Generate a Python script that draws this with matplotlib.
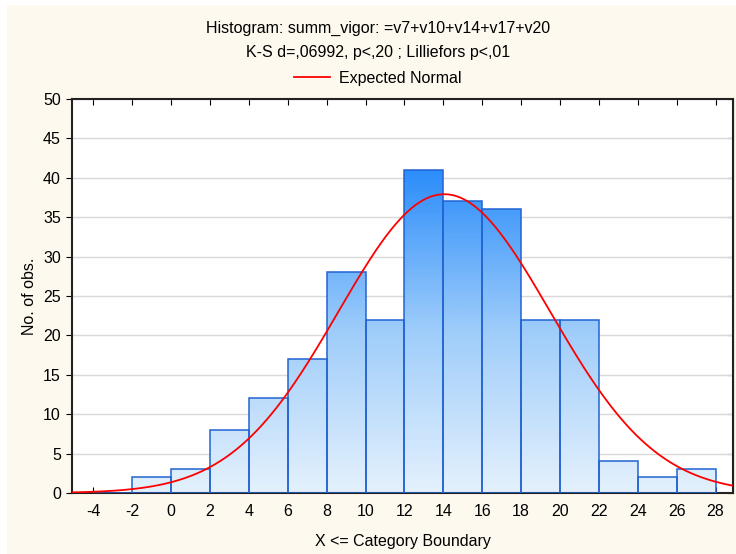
import numpy as np
import matplotlib
matplotlib.use('Agg')
import matplotlib.pyplot as plt
from matplotlib.colors import LinearSegmentedColormap
from matplotlib.patches import Rectangle

plt.rcParams['font.family'] = ['Liberation Sans', 'DejaVu Sans']
plt.rcParams['axes.unicode_minus'] = False

# bin edges and counts
bin_left = [-4, -2, 0, 2, 4, 6, 8, 10, 12, 14, 16, 18, 20, 22, 24, 26]
counts = [0, 2, 3, 8, 12, 17, 28, 22, 41, 37, 36, 22, 22, 4, 2, 3]
bin_width = 2
x_ticks = list(range(-4, 29, 2))
y_ticks = list(range(0, 51, 5))

# expected normal parameters (estimated from the curve)
norm_mean = 14.05
norm_sd = 5.45

title1 = 'Histogram: summ_vigor: =v7+v10+v14+v17+v20'
title2 = 'K-S d=,06992, p<,20 ; Lilliefors p<,01'

fig = plt.figure(figsize=(7.36, 5.54), dpi=100)
fig.patch.set_facecolor('white')
# cream panel behind the chart
fig.patches.append(Rectangle((7 / 736, 0), 1 - 7 / 736, 1 - 5 / 554,
                             transform=fig.transFigure, facecolor='#fdf9ee',
                             edgecolor='none', zorder=-10))

ax = fig.add_axes([72 / 736, 1 - 493 / 554, (733 - 72) / 736, (493 - 99) / 554])
ax.set_facecolor('white')

cmap = LinearSegmentedColormap.from_list('bar', ['#e4f1fd', '#9fcdfa', '#2c8dfa'])
top = max(counts)
for xl, c in zip(bin_left, counts):
    rect = Rectangle((xl, 0), bin_width, c, facecolor='none',
                     edgecolor='#2263d2', linewidth=1.1, zorder=3)
    ax.add_patch(rect)
    if c > 0:
        grad = np.linspace(0, c / top, 100).reshape(-1, 1)
        im = ax.imshow(grad, extent=(xl, xl + bin_width, 0, c), origin='lower',
                       cmap=cmap, vmin=0, vmax=1, aspect='auto', zorder=2)
        im.set_clip_path(rect)

xs = np.linspace(-5.1, 29, 400)
n_total = sum(counts)
ys = n_total * bin_width * np.exp(-0.5 * ((xs - norm_mean) / norm_sd) ** 2) / (norm_sd * np.sqrt(2 * np.pi))
line, = ax.plot(xs, ys, color='#ff0000', linewidth=1.3, zorder=4)

ax.set_xlim(-5.1, 28.9)
ax.set_ylim(0, 50)
ax.set_xticks(x_ticks)
ax.set_yticks(y_ticks)
ax.yaxis.grid(True, color='#d9d9d9', linewidth=1)
ax.set_axisbelow(True)
ax.tick_params(axis='x', direction='in', top=True, length=4, labelsize=11.5, pad=8)
ax.tick_params(axis='y', direction='out', length=4, labelsize=11.5, pad=4)
for s in ax.spines.values():
    s.set_linewidth(1.5)
    s.set_color('#222222')
# right side inward ticks
ax2 = ax.secondary_yaxis('right')
ax2.set_yticks(y_ticks)
ax2.tick_params(direction='in', length=4, labelright=False)

ax.set_xlabel('X <= Category Boundary', fontsize=11.5, labelpad=11)
ax.set_ylabel('No. of obs.', fontsize=11.5, labelpad=4)

cx = 378 / 736
fig.text(cx, 1 - 28 / 554, title1, ha='center', va='center', fontsize=11.5)
fig.text(cx, 1 - 53 / 554, title2, ha='center', va='center', fontsize=11.5)
fig.legend([line], ['Expected Normal'], loc='center', bbox_to_anchor=(cx, 1 - 78 / 554),
           frameon=False, fontsize=11.5, handlelength=2.2, handletextpad=0.6)

fig.savefig('out.png', dpi=100, facecolor=fig.get_facecolor())
